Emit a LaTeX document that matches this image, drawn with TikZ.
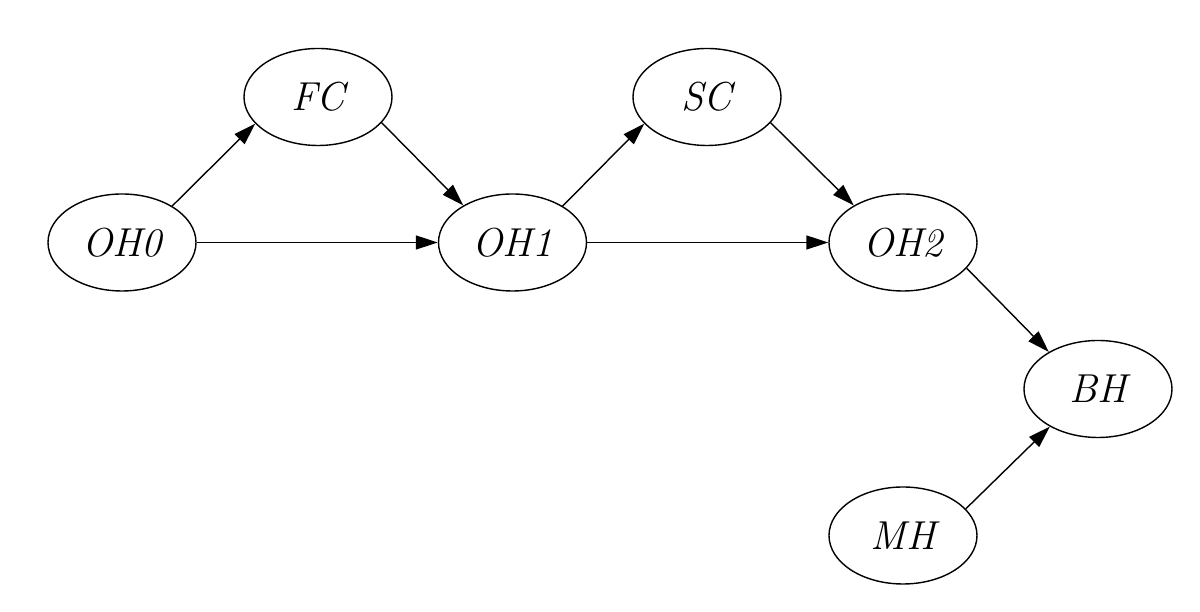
\documentclass[tikz,border=0pt]{standalone}
\usetikzlibrary{shapes.geometric,arrows.meta}

\tikzset{
  etat/.style={ellipse, draw, minimum width=1.48cm, minimum height=0.97cm,
    inner sep=0pt, font=\fontsize{11.5}{14}\selectfont\itshape},
  fleche/.style={-{Triangle[length=2.2mm,width=1.4mm]}}
}

\begin{document}
\begin{tikzpicture}[scale=1]

\useasboundingbox (0,0) rectangle (12,6.12);

% noeuds
\node[etat] (oh0) at (1.22,3.695) {OH0};
\node[etat] (fc) at (3.18,5.15) {FC};
\node[etat] (oh1) at (5.125,3.695) {OH1};
\node[etat] (sc) at (7.07,5.15) {SC};
\node[etat] (oh2) at (9.03,3.695) {OH2};
\node[etat] (bh) at (10.98,2.23) {BH};
\node[etat] (mh) at (9.03,0.765) {MH};

% fleches
\draw[fleche] (oh0.36) -- (fc.203);
\draw[fleche] (fc.-22) -- (oh1.143);
\draw[fleche] (oh0) -- (oh1);

\draw[fleche] (oh1.36) -- (sc.203);
\draw[fleche] (sc.-22) -- (oh2.143);
\draw[fleche] (oh1) -- (oh2);

\draw[fleche] (oh2.-22) -- (bh.143);
\draw[fleche] (mh.23) -- (bh.218);

\end{tikzpicture}
\end{document}
